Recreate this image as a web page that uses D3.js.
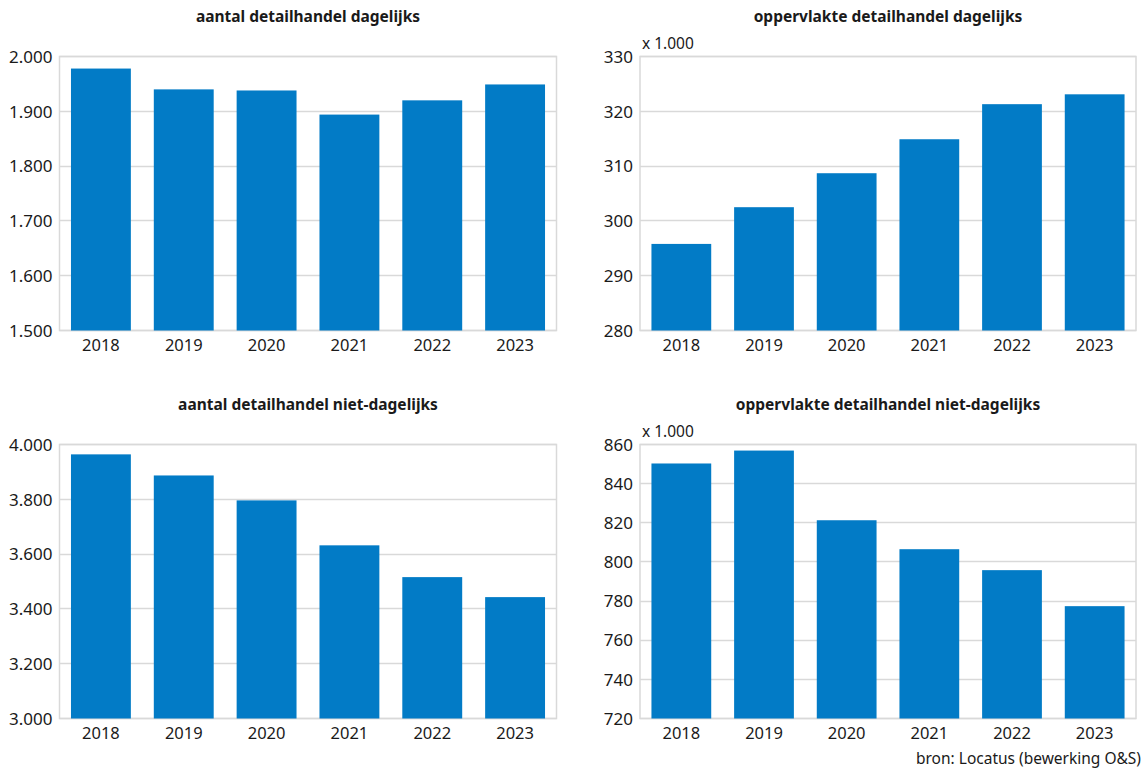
<!DOCTYPE html>
<html>
<head>
<meta charset="utf-8">
<script src="https://cdn.jsdelivr.net/npm/d3@7"></script>
<style>
  html, body { margin: 0; padding: 0; background: #fff; }
  svg { display: block; }
  text { font-family: "Noto Sans", sans-serif; fill: #1a1a1a; }
</style>
</head>
<body>
<svg id="chart" width="1143" height="769"></svg>
<script>
// ---- data ----
const years = ["2018", "2019", "2020", "2021", "2022", "2023"];

const aantalDagelijks = [1978, 1940, 1938, 1894, 1920, 1949];
const oppervlakteDagelijks = [295.8, 302.5, 308.7, 314.9, 321.3, 323.1];
const aantalNietDagelijks = [3964, 3887, 3796, 3632, 3516, 3443];
const oppervlakteNietDagelijks = [850.3, 856.9, 821.3, 806.5, 795.8, 777.4];

const ticksAantalDagelijks = [1500, 1600, 1700, 1800, 1900, 2000];
const ticksOppDagelijks = [280, 290, 300, 310, 320, 330];
const ticksAantalNiet = [3000, 3200, 3400, 3600, 3800, 4000];
const ticksOppNiet = [720, 740, 760, 780, 800, 820, 840, 860];

const titles = [
  "aantal detailhandel dagelijks",
  "oppervlakte detailhandel dagelijks",
  "aantal detailhandel niet-dagelijks",
  "oppervlakte detailhandel niet-dagelijks"
];
const unitLabel = "x 1.000";
const sourceLabel = "bron: Locatus (bewerking O&S)";

// ---- layout ----
const svg = d3.select("#chart");
const barColor = "#027bc6";
const gridColor = "#d9d9d9";
const fmt = d3.formatLocale({ decimal: ",", thousands: ".", grouping: [3], currency: ["", ""] }).format(",");

const panels = [
  { title: titles[0], values: aantalDagelijks, ticks: ticksAantalDagelijks, x: 59.5, y: 56.5, w: 497, h: 274, unit: false, titleY: 22 },
  { title: titles[1], values: oppervlakteDagelijks, ticks: ticksOppDagelijks, x: 640, y: 56.5, w: 496, h: 274, unit: true, titleY: 22 },
  { title: titles[2], values: aantalNietDagelijks, ticks: ticksAantalNiet, x: 59.5, y: 444.5, w: 497, h: 274, unit: false, titleY: 410 },
  { title: titles[3], values: oppervlakteNietDagelijks, ticks: ticksOppNiet, x: 640, y: 444.5, w: 496, h: 274, unit: true, titleY: 410 }
];

panels.forEach(p => {
  const g = svg.append("g").attr("transform", `translate(${p.x},${p.y})`);
  const xs = d3.scaleBand().domain(years).range([0, p.w]).paddingInner(0.277).paddingOuter(0.1385);
  const ys = d3.scaleLinear().domain([d3.min(p.ticks), d3.max(p.ticks)]).range([p.h, 0]);

  // gridlines
  g.append("g").selectAll("line").data(p.ticks).join("line")
    .attr("x1", 0).attr("x2", p.w)
    .attr("y1", d => Math.round(ys(d))).attr("y2", d => Math.round(ys(d)))
    .attr("stroke", gridColor).attr("stroke-width", 1.5);

  // frame
  g.append("rect").attr("x", 0).attr("y", 0).attr("width", p.w).attr("height", p.h)
    .attr("fill", "none").attr("stroke", gridColor).attr("stroke-width", 1.5);

  // bars
  g.append("g").selectAll("rect").data(p.values).join("rect")
    .attr("x", (d, i) => xs(years[i]))
    .attr("width", xs.bandwidth())
    .attr("y", d => ys(d))
    .attr("height", d => ys(d3.min(p.ticks)) - ys(d))
    .attr("fill", barColor);

  // y axis labels
  const yAxis = d3.axisLeft(ys).tickValues(p.ticks).tickSize(0).tickPadding(7).tickFormat(d => fmt(d));
  const ya = g.append("g").call(yAxis);
  ya.select(".domain").remove();
  ya.selectAll("text").style("font-size", "17px").style("font-family", '"Noto Sans", sans-serif').attr("fill", "#111").attr("dy", "0.34em");

  // x axis labels
  const xAxis = d3.axisBottom(xs).tickSize(0).tickPadding(9);
  const xa = g.append("g").attr("transform", `translate(0,${p.h})`).call(xAxis);
  xa.select(".domain").remove();
  xa.selectAll("text").style("font-size", "16.5px").style("font-family", '"Noto Sans", sans-serif').attr("fill", "#111");

  // title
  svg.append("text").attr("x", p.x + p.w / 2).attr("y", p.titleY)
    .attr("text-anchor", "middle").style("font-size", "15.5px").style("font-weight", "bold")
    .text(p.title);

  if (p.unit) {
    g.append("text").attr("x", 2).attr("y", -8).style("font-size", "15.5px").text(unitLabel);
  }
});

svg.append("text").attr("x", 1141).attr("y", 764).attr("text-anchor", "end")
  .style("font-size", "15.5px").text(sourceLabel);
</script>
</body>
</html>
